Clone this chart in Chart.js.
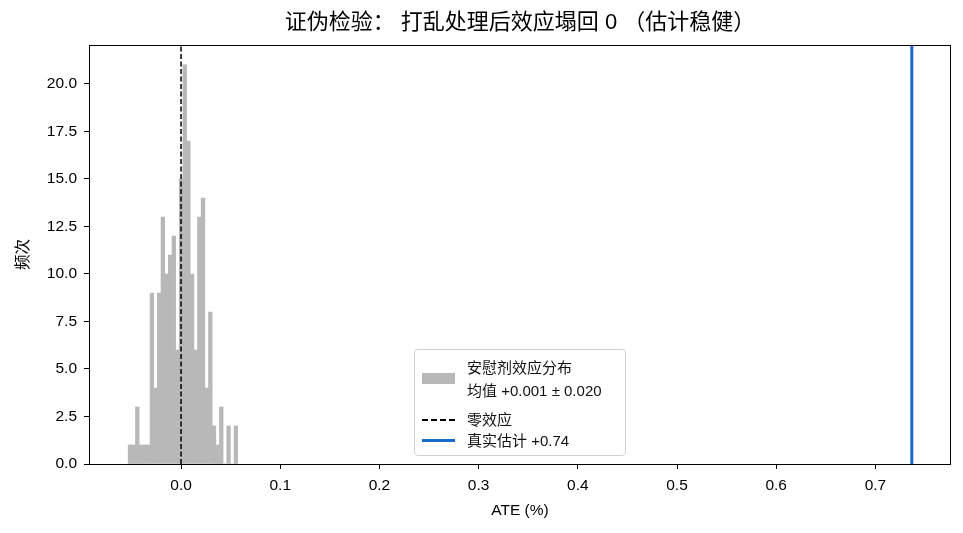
<!DOCTYPE html>
<html>
<head>
<meta charset="utf-8">
<script src="https://cdn.jsdelivr.net/npm/chart.js@4.4.1/dist/chart.umd.min.js"></script>
<style>
  html, body { margin: 0; padding: 0; background: #fff; }
  #wrap { position: relative; width: 963px; height: 533px; }
  .font { font-family: "Liberation Sans", "Noto Sans CJK SC", sans-serif; }
  #title { position: absolute; left: 89px; width: 862px; top: 8px; text-align: center;
    font-size: 22px; line-height: 28px; color: #000; white-space: nowrap; }
  #legend { position: absolute; left: 414px; top: 349px; width: 210px; height: 105px;
    border: 1px solid #d0d0d0; border-radius: 4px; background: rgba(255,255,255,0.85);
    font-size: 15px; line-height: 18px; color: #111; }
  #legend .row { position: absolute; left: 52px; white-space: nowrap; }
  #legend .sw { position: absolute; left: 7px; }
  #legend .dash { height: 1.5px; background: repeating-linear-gradient(90deg, #000 0 6px, transparent 6px 9px); }
</style>
</head>
<body>
<div id="wrap" class="font">
  <canvas id="c"></canvas>
  <div id="title">证伪检验： 打乱处理后效应塌回 0 （估计稳健）</div>
  <div id="legend">
    <div class="sw" style="top:23px;width:33px;height:11px;background:#b8b8b8"></div>
    <div class="row" style="top:9px">安慰剂效应分布</div>
    <div class="row" style="top:32px">均值 +0.001 ± 0.020</div>
    <div class="sw dash" style="top:69px;width:33px"></div>
    <div class="row" style="top:61px">零效应</div>
    <div class="sw" style="top:89px;width:33px;border-top:3px solid #1a6acb"></div>
    <div class="row" style="top:82px">真实估计 +0.74</div>
  </div>
</div>
<script>
// 安慰剂 (打乱处理) 的 ATE 直方图, 200 次, 30 个分箱
const binStart = -0.0533;
const binWidth = 0.00368;
const binCounts = [1, 1, 3, 1, 1, 1, 9, 4, 9, 13, 10, 11, 12, 6, 15, 21, 17, 10, 6, 13, 14, 4, 8, 2, 1, 3, 0, 2, 0, 2];
const realEstimate = 0.7367;
const xTicks = [0, 0.1, 0.2, 0.3, 0.4, 0.5, 0.6, 0.7];
const yTicks = [0, 2.5, 5, 7.5, 10, 12.5, 15, 17.5, 20];
const xMin = -0.0928, xMax = 0.7762, yMax = 22.05;

const FONT = '"Liberation Sans", "Noto Sans CJK SC", sans-serif';

const histPts = binCounts.map((c, i) => ({ x: binStart + binWidth * (i + 0.5), y: c }));

const frame = {
  id: "frame",
  afterDatasetsDraw(chart) {
    const { ctx, chartArea: a } = chart;
    ctx.save();
    ctx.strokeStyle = "#000";
    ctx.lineWidth = 1;
    ctx.strokeRect(Math.round(a.left) + 0.5, Math.round(a.top) + 0.5,
      Math.round(a.right - a.left) - 1, Math.round(a.bottom - a.top));
    ctx.restore();
  }
};

new Chart(document.getElementById("c"), {
  data: {
    datasets: [
      { type: "bar", label: "安慰剂效应分布", data: histPts, backgroundColor: "#b8b8b8",
        barPercentage: 1, categoryPercentage: 1, borderWidth: 0, order: 3 },
      { type: "line", label: "零效应", data: [{x: 0, y: 0}, {x: 0, y: yMax}], borderColor: "#000",
        borderWidth: 1.5, borderDash: [5, 2.5], pointRadius: 0, order: 2 },
      { type: "line", label: "真实估计", data: [{x: realEstimate, y: 0}, {x: realEstimate, y: yMax}],
        borderColor: "#1a6acb", borderWidth: 3, pointRadius: 0, order: 1 }
    ]
  },
  options: {
    responsive: true, maintainAspectRatio: false, animation: false,
    layout: { padding: { left: 12, right: 12, top: 45, bottom: 0 } },
    plugins: {
      legend: { display: false },
      tooltip: { enabled: false },
      title: { display: false }
    },
    scales: {
      x: {
        type: "linear", min: xMin, max: xMax, offset: false,
        afterFit: s => { s.height = 69; },
        afterBuildTicks: s => { s.ticks = xTicks.map(v => ({ value: v })); },
        ticks: { color: "#000", font: { family: FONT, size: 15.5 }, padding: 7, maxRotation: 0,
          callback: v => v.toFixed(1) },
        grid: { display: true, offset: false, drawOnChartArea: false, drawTicks: true, tickLength: 5, tickColor: "#000" },
        border: { display: false },
        title: { display: true, text: "ATE (%)", color: "#000", font: { family: FONT, size: 15.5 },
          padding: { top: 0, bottom: 13 } }
      },
      y: {
        min: 0, max: yMax,
        afterFit: s => { s.width = 77; },
        afterBuildTicks: s => { s.ticks = yTicks.map(v => ({ value: v })); },
        ticks: { color: "#000", font: { family: FONT, size: 15.5 }, padding: 7,
          callback: v => v.toFixed(1) },
        grid: { display: true, offset: false, drawOnChartArea: false, drawTicks: true, tickLength: 5, tickColor: "#000" },
        border: { display: false },
        title: { display: true, text: "频次", color: "#000", font: { family: FONT, size: 15.5 },
          padding: { top: 2, bottom: 0 } }
      }
    }
  },
  plugins: [frame]
});
</script>
</body>
</html>
